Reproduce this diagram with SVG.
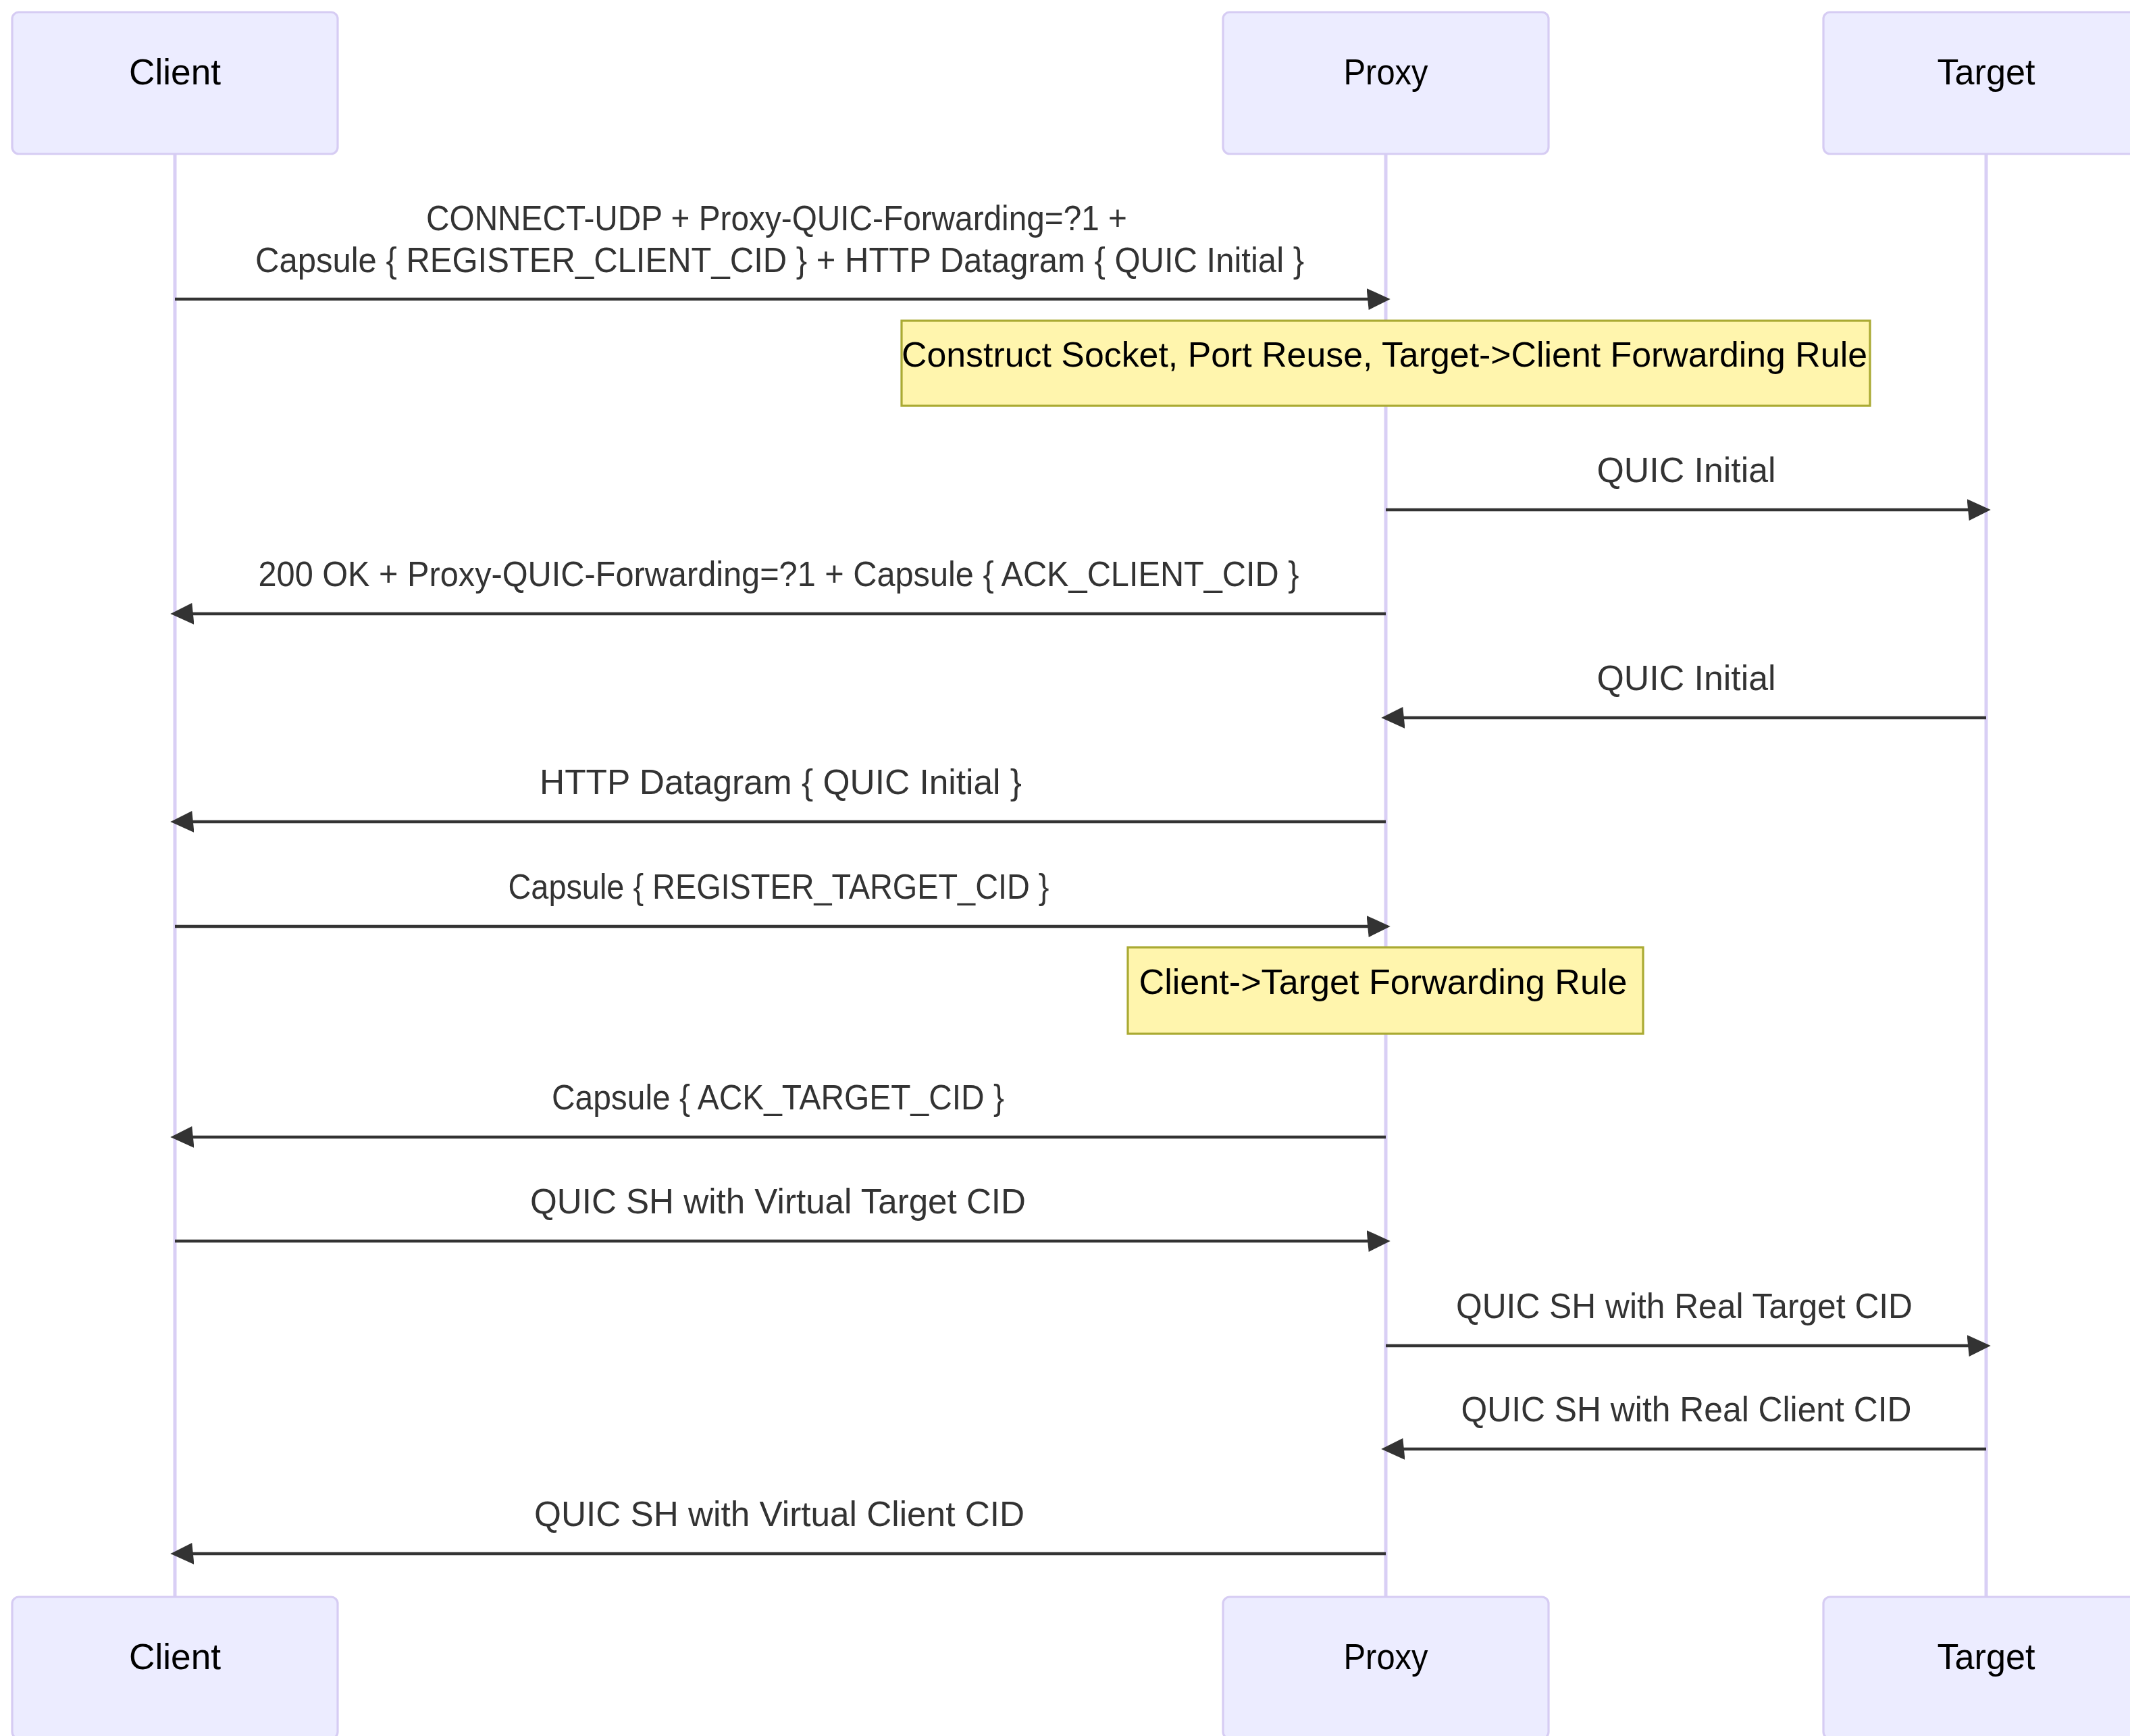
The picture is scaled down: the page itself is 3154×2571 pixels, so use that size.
<svg xmlns="http://www.w3.org/2000/svg" width="3154" height="2571" viewBox="0 0 3154 2571">
<style>
.actor{fill:#ECECFF;stroke:#D6CCF3;stroke-width:3.2}
.actorText{font-family:"Liberation Sans",Arial,sans-serif;font-size:53px;fill:#000;text-anchor:middle}
.life{stroke:#D9CFF5;stroke-width:5;fill:none}
.msg{stroke:#333;stroke-width:4.5;fill:none;marker-end:url(#arrow)}
.msgText{font-family:"Liberation Sans",Arial,sans-serif;font-size:52.5px;fill:#333;text-anchor:middle}
.note{fill:#FFF5AD;stroke:#AAAA33;stroke-width:3.2}
.noteText{font-family:"Liberation Sans",Arial,sans-serif;font-size:52.5px;fill:#000;text-anchor:middle}
</style>
<defs>
<marker id="arrow" viewBox="-1 0 11 10" refX="7.9" refY="5" markerWidth="35.2" markerHeight="32" markerUnits="userSpaceOnUse" orient="auto">
<path d="M -1 0 L 10 5 L 0 10 z" fill="#333" stroke="none"/>
</marker>
</defs>
<rect width="3154" height="2571" fill="#fff"/>
<g id="lifelines">
<line class="life" x1="259" y1="228" x2="259" y2="2365"/>
<line class="life" x1="2052" y1="228" x2="2052" y2="2365"/>
<line class="life" x1="2941" y1="228" x2="2941" y2="2365"/>
</g>
<g id="actor-client-top"><rect class="actor" x="18" y="18" width="482" height="210" rx="10"/><text class="actorText" x="259" y="125" textLength="136" lengthAdjust="spacingAndGlyphs">Client</text></g>
<g id="actor-proxy-top"><rect class="actor" x="1811" y="18" width="482" height="210" rx="10"/><text class="actorText" x="2052" y="125" textLength="125" lengthAdjust="spacingAndGlyphs">Proxy</text></g>
<g id="actor-target-top"><rect class="actor" x="2700" y="18" width="482" height="210" rx="10"/><text class="actorText" x="2941" y="125" textLength="145" lengthAdjust="spacingAndGlyphs">Target</text></g>
<g id="note-1"><rect class="note" x="1335" y="475" width="1434" height="126"/><text class="noteText" x="2050" y="543" textLength="1430" lengthAdjust="spacingAndGlyphs">Construct Socket, Port Reuse, Target-&gt;Client Forwarding Rule</text></g>
<g id="note-2"><rect class="note" x="1670" y="1403" width="763" height="128"/><text class="noteText" x="2048" y="1472" textLength="723" lengthAdjust="spacingAndGlyphs">Client-&gt;Target Forwarding Rule</text></g>
<g id="connectors">
<line class="msg" x1="259" y1="443" x2="2052" y2="443"/>
<text class="msgText" x="1150" y="341" textLength="1038" lengthAdjust="spacingAndGlyphs">CONNECT-UDP + Proxy-QUIC-Forwarding=?1 +</text>
<text class="msgText" x="1154.5" y="403" textLength="1553" lengthAdjust="spacingAndGlyphs">Capsule { REGISTER_CLIENT_CID } + HTTP Datagram { QUIC Initial }</text>
<line class="msg" x1="2052" y1="755" x2="2941" y2="755"/>
<text class="msgText" x="2497" y="714" textLength="265" lengthAdjust="spacingAndGlyphs">QUIC Initial</text>
<line class="msg" x1="2052" y1="909" x2="259" y2="909"/>
<text class="msgText" x="1153" y="868" textLength="1541" lengthAdjust="spacingAndGlyphs">200 OK + Proxy-QUIC-Forwarding=?1 + Capsule { ACK_CLIENT_CID }</text>
<line class="msg" x1="2941" y1="1063" x2="2052" y2="1063"/>
<text class="msgText" x="2497" y="1022" textLength="265" lengthAdjust="spacingAndGlyphs">QUIC Initial</text>
<line class="msg" x1="2052" y1="1217" x2="259" y2="1217"/>
<text class="msgText" x="1156" y="1176" textLength="714" lengthAdjust="spacingAndGlyphs">HTTP Datagram { QUIC Initial }</text>
<line class="msg" x1="259" y1="1372" x2="2052" y2="1372"/>
<text class="msgText" x="1153" y="1331" textLength="801" lengthAdjust="spacingAndGlyphs">Capsule { REGISTER_TARGET_CID }</text>
<line class="msg" x1="2052" y1="1684" x2="259" y2="1684"/>
<text class="msgText" x="1152" y="1643" textLength="670" lengthAdjust="spacingAndGlyphs">Capsule { ACK_TARGET_CID }</text>
<line class="msg" x1="259" y1="1838" x2="2052" y2="1838"/>
<text class="msgText" x="1152" y="1797" textLength="734" lengthAdjust="spacingAndGlyphs">QUIC SH with Virtual Target CID</text>
<line class="msg" x1="2052" y1="1993" x2="2941" y2="1993"/>
<text class="msgText" x="2494" y="1952" textLength="676" lengthAdjust="spacingAndGlyphs">QUIC SH with Real Target CID</text>
<line class="msg" x1="2941" y1="2146" x2="2052" y2="2146"/>
<text class="msgText" x="2497" y="2105" textLength="667" lengthAdjust="spacingAndGlyphs">QUIC SH with Real Client CID</text>
<line class="msg" x1="2052" y1="2301" x2="259" y2="2301"/>
<text class="msgText" x="1154" y="2260" textLength="726" lengthAdjust="spacingAndGlyphs">QUIC SH with Virtual Client CID</text>
</g>
<g id="actor-client-bottom"><rect class="actor" x="18" y="2365" width="482" height="210" rx="10"/><text class="actorText" x="259" y="2472" textLength="136" lengthAdjust="spacingAndGlyphs">Client</text></g>
<g id="actor-proxy-bottom"><rect class="actor" x="1811" y="2365" width="482" height="210" rx="10"/><text class="actorText" x="2052" y="2472" textLength="125" lengthAdjust="spacingAndGlyphs">Proxy</text></g>
<g id="actor-target-bottom"><rect class="actor" x="2700" y="2365" width="482" height="210" rx="10"/><text class="actorText" x="2941" y="2472" textLength="145" lengthAdjust="spacingAndGlyphs">Target</text></g>
</svg>
